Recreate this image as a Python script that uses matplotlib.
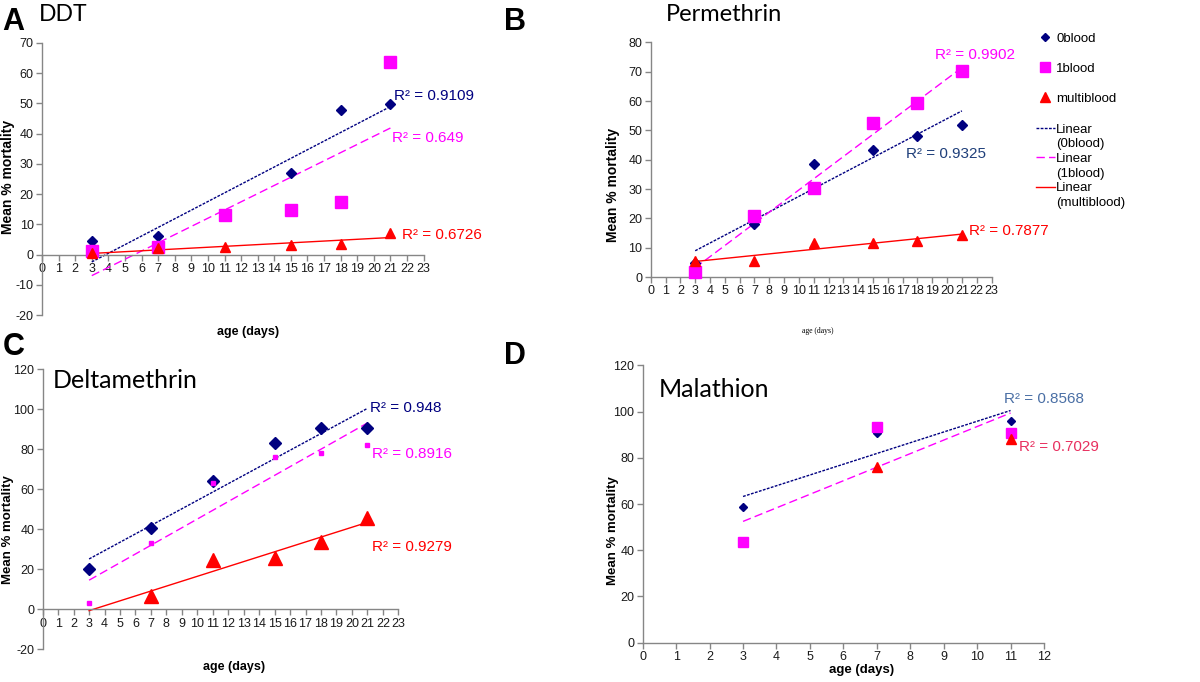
import numpy as np
import matplotlib.pyplot as plt
from matplotlib.lines import Line2D

plt.rcParams['font.family'] = ['Liberation Sans', 'DejaVu Sans']
plt.rcParams['axes.unicode_minus'] = False

# sampling ages (days)
days = [3, 7, 11, 15, 18, 21]
days_mal = [3, 7, 11]

# mean % mortality
ddt_0blood = [4.4, 6.0, 13.0, 27.0, 47.9, 49.9]
ddt_1blood = [1.3, 2.6, 13.1, 14.8, 17.4, 63.7]
ddt_multi = [0.5, 2.1, 2.6, 3.2, 3.4, 7.2]

per_0blood = [4.7, 18.1, 38.5, 43.3, 48.2, 52.0]
per_1blood = [1.8, 20.9, 30.2, 52.5, 59.5, 70.2]
per_multi = [5.5, 5.6, 11.7, 11.7, 12.4, 14.5]

del_0blood = [20.0, 40.5, 64.2, 83.3, 90.5, 90.7]
del_1blood = [3.3, 33.0, 63.3, 76.3, 78.0, 82.2]
del_multi = [np.nan, 6.8, 24.7, 25.8, 33.5, 45.5]

mal_0blood = [58.9, 90.6, 96.1]
mal_1blood = [43.7, 93.5, 90.6]
mal_multi = [np.nan, 76.2, 88.2]

r2_ddt = ['0.9109', '0.649', '0.6726']
r2_per = ['0.9325', '0.9902', '0.7877']
r2_del = ['0.948', '0.8916', '0.9279']
r2_mal = ['0.8568', '0.7029']

series_names = ['0blood', '1blood', 'multiblood']

NAVY = '#000080'
MAG = '#ff00ff'
RED = '#ff0000'
AXC = '#868686'


def setup(ax, xmax, ylo, yhi, ystep):
    ax.set_xlim(0, xmax)
    ax.set_ylim(ylo, yhi)
    ax.set_xticks(range(0, xmax + 1))
    ax.set_yticks(np.arange(ylo, yhi + 1, ystep))
    for s in ['top', 'right']:
        ax.spines[s].set_visible(False)
    ax.spines['bottom'].set_position(('data', 0))
    for s in ['left', 'bottom']:
        ax.spines[s].set_color(AXC)
        ax.spines[s].set_linewidth(1)
    ax.tick_params(direction='out', length=4, width=1, color=AXC,
                   labelsize=9, pad=2, labelcolor='#1a1a1a')
    ax.patch.set_alpha(0)


def trend(ax, x, y, color, ls):
    x = np.array(x, float)
    y = np.array(y, float)
    ok = ~np.isnan(y)
    m, b = np.polyfit(x[ok], y[ok], 1)
    xs = np.array([x.min(), x.max()])
    ax.plot(xs, m * xs + b, color=color, ls=ls, lw=1, zorder=2)


def points(ax, x, y0, y1, ym, sizes):
    ax.plot(x, y0, 'D', color=NAVY, ms=sizes[0], ls='none', zorder=3, clip_on=False)
    ax.plot(x, y1, 's', color=MAG, ms=sizes[1], ls='none', zorder=4, clip_on=False)
    ax.plot(x, ym, '^', color=RED, ms=sizes[2], ls='none', zorder=5, clip_on=False)


DOT = (0, (2, 1))
DASH = (0, (6, 3))

fig = plt.figure(figsize=(12, 6.82), dpi=100)

# ---- A: DDT
axA = fig.add_axes([0.035, 0.538, 0.318, 0.399])
setup(axA, 23, -20, 70, 10)
points(axA, days, ddt_0blood, ddt_1blood, ddt_multi, (5.0, 8.5, 7.5))
trend(axA, days, ddt_0blood, NAVY, DOT)
trend(axA, days, ddt_1blood, MAG, DASH)
trend(axA, days, ddt_multi, RED, '-')
axA.text(21.2, 52.3, 'R² = ' + r2_ddt[0], color=NAVY, fontsize=11, va='center')
axA.text(21.1, 38.5, 'R² = ' + r2_ddt[1], color=MAG, fontsize=11, va='center')
axA.text(21.7, 6.5, 'R² = ' + r2_ddt[2], color=RED, fontsize=11, va='center')
axA.set_xlabel('age (days)', fontsize=9, fontweight='bold')
axA.xaxis.set_label_coords(0.539, -0.04)
axA.set_ylabel('Mean % mortality', fontsize=10, fontweight='bold')
axA.yaxis.set_label_coords(-0.07, 0.507)

# ---- B: Permethrin
axB = fig.add_axes([0.5423, 0.5938, 0.284, 0.344])
setup(axB, 23, 0, 80, 10)
points(axB, days, per_0blood, per_1blood, per_multi, (4.8, 8.0, 7.2))
trend(axB, days, per_0blood, NAVY, DOT)
trend(axB, days, per_1blood, MAG, DASH)
trend(axB, days, per_multi, RED, '-')
axB.text(19.2, 75.7, 'R² = ' + r2_per[1], color=MAG, fontsize=11, va='center')
axB.text(17.2, 41.9, 'R² = ' + r2_per[0], color='#1f3f7a', fontsize=11, va='center')
axB.text(21.5, 15.7, 'R² = ' + r2_per[2], color=RED, fontsize=11, va='center')
axB.set_xlabel('age (days)', fontsize=5.5, family='Liberation Serif')
axB.xaxis.set_label_coords(0.49, -0.215)
axB.set_ylabel('Mean % mortality', fontsize=10, fontweight='bold')
axB.yaxis.set_label_coords(-0.09, 0.392)

# legend: markers first, then the trend lines (label split over two rows)
mk = [Line2D([], [], marker='D', color=NAVY, ms=4.5, ls='none'),
      Line2D([], [], marker='s', color=MAG, ms=7, ls='none'),
      Line2D([], [], marker='^', color=RED, ms=7, ls='none')]
leg1 = axB.legend(mk, series_names, loc='upper left',
                  bbox_to_anchor=(0.863, 0.952), bbox_transform=fig.transFigure,
                  frameon=False, fontsize=9.5, handlelength=1.5, handletextpad=0.05,
                  labelspacing=1.35, borderpad=0, borderaxespad=0)
axB.add_artist(leg1)
ln_handles = []
ln_labels = []
for c, s, name in zip([NAVY, MAG, RED], [DOT, DASH, '-'], series_names):
    ln_handles += [Line2D([], [], color=c, ls=s, lw=1), Line2D([], [], color='none')]
    ln_labels += ['Linear', '(' + name + ')']
axB.legend(ln_handles, ln_labels, loc='upper left',
           bbox_to_anchor=(0.863, 0.819), bbox_transform=fig.transFigure,
           frameon=False, fontsize=9.5, handlelength=1.5, handletextpad=0.05,
           labelspacing=0.18, borderpad=0, borderaxespad=0)

# ---- C: Deltamethrin
axC = fig.add_axes([0.0356, 0.048, 0.2963, 0.4106])
setup(axC, 23, -20, 120, 20)
points(axC, days, del_0blood, del_1blood, del_multi, (6.0, 3.0, 9.5))
trend(axC, days, del_0blood, NAVY, DOT)
trend(axC, days, del_1blood, MAG, DASH)
trend(axC, days, del_multi, RED, '-')
axC.text(21.2, 100.5, 'R² = ' + r2_del[0], color=NAVY, fontsize=11, va='center')
axC.text(21.27, 77.7, 'R² = ' + r2_del[1], color=MAG, fontsize=11, va='center')
axC.text(21.3, 31.3, 'R² = ' + r2_del[2], color=RED, fontsize=11, va='center')
axC.text(0.65, 114.3, 'Deltamethrin', fontsize=18, family='Lato', va='center')
axC.set_xlabel('age (days)', fontsize=9, fontweight='bold')
axC.xaxis.set_label_coords(0.538, -0.042)
axC.set_ylabel('Mean % mortality', fontsize=9.5, fontweight='bold')
axC.yaxis.set_label_coords(-0.08, 0.426)

# ---- D: Malathion
axD = fig.add_axes([0.5356, 0.0576, 0.3344, 0.4067])
setup(axD, 12, 0, 120, 20)
points(axD, days_mal, mal_0blood, mal_1blood, mal_multi, (4.4, 7.7, 6.8))
trend(axD, days_mal, mal_0blood, NAVY, DOT)
trend(axD, days_mal, mal_1blood, MAG, DASH)
axD.text(10.8, 105.3, 'R² = ' + r2_mal[0], color='#4a6fa5', fontsize=11, va='center')
axD.text(11.24, 84.8, 'R² = ' + r2_mal[1], color='#e8305f', fontsize=11, va='center')
axD.text(0.47, 109.7, 'Malathion', fontsize=18, family='Lato', va='center')
axD.set_xlabel('age (days)', fontsize=9.5, fontweight='bold')
axD.xaxis.set_label_coords(0.546, -0.075)
axD.set_ylabel('Mean % mortality', fontsize=9.5, fontweight='bold')
axD.yaxis.set_label_coords(-0.06, 0.403)

# panel letters and titles
for lbl, x, y in [('A', 0.002, 0.99), ('B', 0.42, 0.99), ('C', 0.002, 0.513), ('D', 0.42, 0.5)]:
    fig.text(x, y, lbl, fontsize=22, fontweight='bold', va='top')
fig.text(0.032, 0.979, 'DDT', fontsize=16.5, family='Lato', va='center')
fig.text(0.555, 0.979, 'Permethrin', fontsize=17, family='Lato', va='center')

fig.savefig('out.png', dpi=100)
